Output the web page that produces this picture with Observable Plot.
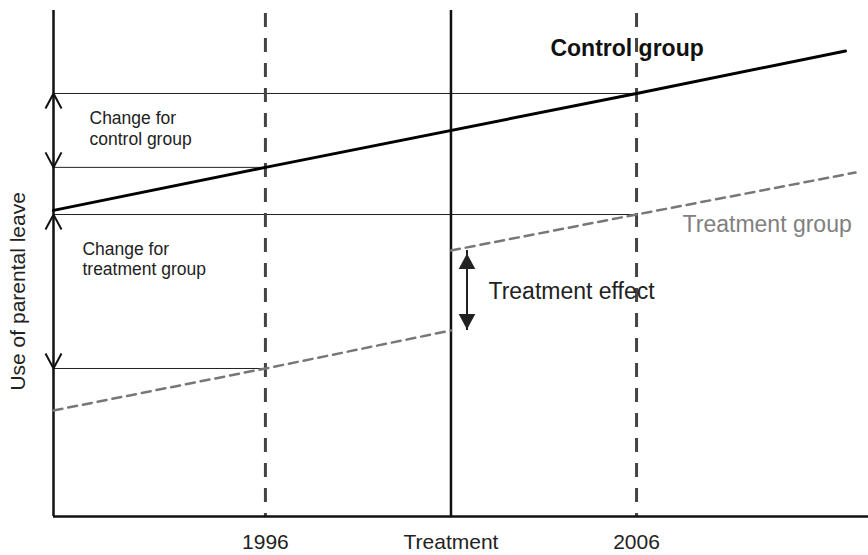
<!DOCTYPE html>
<html><head><meta charset="utf-8">
<script src="https://cdn.jsdelivr.net/npm/d3@7"></script>
<script src="https://cdn.jsdelivr.net/npm/@observablehq/plot@0.6"></script>
<style>
body{margin:0;background:#fff;}
#chart svg{display:block;}
</style>
</head><body><div id="chart"></div>
<script>
// ---- data (schematic units: x in years, y in 0..100 "use" units) ----
const xDomain = [1990.29, 2012.25];
const yDomain = [0, 100];
const tickValues = [1996, 2001, 2006];
const tickLabels = ["1996", "Treatment", "2006"];
const treatmentYear = 2001;
const periodYears = [1996, 2006];

const controlX = [1990.29, 1996, 2006, 2011.63];
const controlY = [60.5, 69.0, 83.6, 92.0];

const treatPreX = [1990.29, 1996, 2001];
const treatPreY = [20.95, 29.25, 36.76];
const treatPostX = [2001, 2006, 2011.9];
const treatPostY = [52.57, 59.68, 67.98];

const labelTexts = ["Control group", "Treatment group", "Treatment effect", "Change for\ncontrol group", "Change for\ntreatment group"];
const labelX = [2003.68, 2007.24, 2002.01, 2001.26 - 10, 1991.07];
const labelY = [92.77, 57.98, 44.7, 76.8, 50.99];
const yLabel = "Use of parental leave";

// ---- derived tables ----
const control = controlX.map((x, i) => ({x, y: controlY[i]}));
const treatment = [
  ...treatPreX.map((x, i) => ({x, y: treatPreY[i], seg: "pre"})),
  ...treatPostX.map((x, i) => ({x, y: treatPostY[i], seg: "post"}))
];
const at = (xs, ys, year) => ys[xs.indexOf(year)];
const c96 = at(controlX, controlY, 1996), c06 = at(controlX, controlY, 2006);
const t96 = at(treatPreX, treatPreY, 1996), t06 = at(treatPostX, treatPostY, 2006);
const refs = [
  {y: c06, x2: 2006}, {y: c96, x2: 1996},
  {y: t06, x2: 2006}, {y: t96, x2: 1996}
];
const upHeads = [{y: c06}, {y: t06}];
const downHeads = [{y: c96}, {y: t96}];
const effect = {lo: at(treatPreX, treatPreY, 2001), hi: at(treatPostX, treatPostY, 2001)};
const labels = labelTexts.map((t, i) => ({t, x: labelX[i], y: labelY[i]}));
labels[3].x = 1991.26;

const chevronUp = {draw(c){c.moveTo(-8,15);c.lineTo(0,0);c.lineTo(8,15);}};
const chevronDown = {draw(c){c.moveTo(-8,-15);c.lineTo(0,0);c.lineTo(8,-15);}};
const triUp = {draw(c){c.moveTo(0,0);c.lineTo(8.3,15.6);c.lineTo(-8.3,15.6);c.closePath();}};
const triDown = {draw(c){c.moveTo(0,0);c.lineTo(8.3,-15.6);c.lineTo(-8.3,-15.6);c.closePath();}};

const labelStyles = [
  {fontSize: 23, fontWeight: "bold", fill: "#111"},
  {fontSize: 23, fontWeight: "normal", fill: "#808080"},
  {fontSize: 23, fontWeight: "normal", fill: "#222"},
  {fontSize: 17.5, fontWeight: "normal", fill: "#222"},
  {fontSize: 17.5, fontWeight: "normal", fill: "#222"}
];

const plot = Plot.plot({
  width: 868,
  height: 555,
  marginTop: 10,
  marginBottom: 39,
  marginLeft: 53,
  marginRight: 0,
  style: {fontFamily: "'Liberation Sans', Arial, sans-serif", background: "#fff", overflow: "visible"},
  x: {domain: xDomain, axis: null},
  y: {domain: yDomain, axis: null},
  marks: [
    // thin reference lines
    Plot.ruleY(refs, {y: "y", x1: xDomain[0], x2: "x2", stroke: "#222", strokeWidth: 1}),
    // vertical dashed period lines
    Plot.ruleX(periodYears, {y1: 99.4, y2: 0, stroke: "#444", strokeWidth: 3, strokeDasharray: "14,11"}),
    // treatment vertical
    Plot.ruleX([treatmentYear], {y1: 0, y2: 100, stroke: "#111", strokeWidth: 2.5}),
    // axes lines
    Plot.ruleX([xDomain[0]], {y1: 0, y2: 100, stroke: "#111", strokeWidth: 2.5}),
    Plot.ruleY([0], {x1: xDomain[0], x2: xDomain[1], stroke: "#111", strokeWidth: 2.5}),
    // treatment group dashed
    Plot.line(treatment, {x: "x", y: "y", z: "seg", stroke: "#777", strokeWidth: 2.5, strokeDasharray: "9,6"}),
    // control group
    Plot.line(control, {x: "x", y: "y", stroke: "#000", strokeWidth: 3}),
    // chevrons on y axis
    Plot.dot(upHeads, {x: xDomain[0], y: "y", symbol: chevronUp, fill: "none", stroke: "#111", strokeWidth: 2}),
    Plot.dot(downHeads, {x: xDomain[0], y: "y", symbol: chevronDown, fill: "none", stroke: "#111", strokeWidth: 2}),
    // treatment effect arrow
    Plot.ruleX([effect], {x: treatmentYear, y1: "lo", y2: "hi", dx: 16, stroke: "#222", strokeWidth: 2}),
    Plot.dot([effect], {x: treatmentYear, y: "hi", dx: 16, dy: 3, symbol: triUp, fill: "#222", stroke: "none"}),
    Plot.dot([effect], {x: treatmentYear, y: "lo", dx: 16, dy: -1, symbol: triDown, fill: "#222", stroke: "none"}),
    // labels
    ...labels.map((d, i) => Plot.text([d], {x: "x", y: "y", text: "t", textAnchor: "start", lineHeight: 1.18, ...labelStyles[i]})),
    // x tick labels
    Plot.axisX(tickValues, {tickSize: 0, tickPadding: 18, fontSize: 21, fill: "#222", tickFormat: (d) => tickLabels[tickValues.indexOf(d)]}),
    // y axis label
    Plot.text([yLabel], {x: xDomain[0], y: 44.5, dx: -35, rotate: -90, fontSize: 21, fill: "#222"})
  ]
});
document.getElementById("chart").appendChild(plot);
</script></body></html>
